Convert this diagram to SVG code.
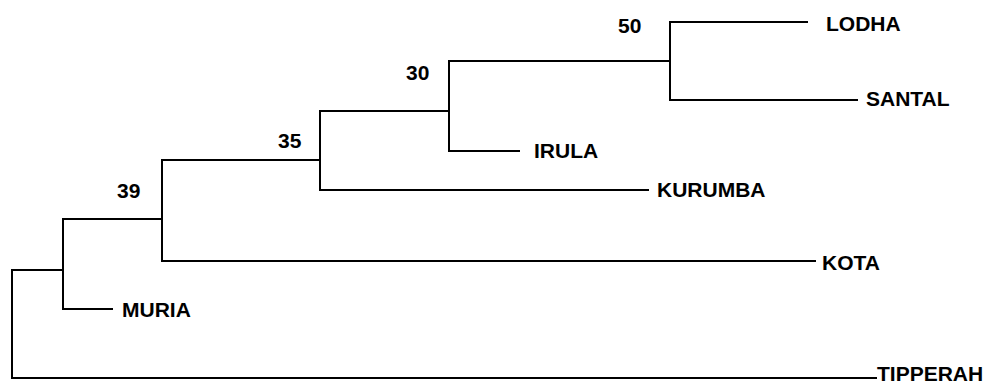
<svg xmlns="http://www.w3.org/2000/svg" width="994" height="384" viewBox="0 0 994 384">
<style>
.e{fill:none;stroke:#000;stroke-width:2;stroke-linecap:square}
.t{font-family:"Liberation Sans",Arial,sans-serif;font-weight:bold;font-size:21px;fill:#000}
</style>
<rect width="994" height="384" fill="#fff"/>
<g id="connectors">
<path class="e" d="M12,378 V270 H63"/>
<path class="e" d="M12,378 H876"/>
<path class="e" d="M63,309 V219 H162"/>
<path class="e" d="M63,309 H112"/>
<path class="e" d="M162,261 V160 H320"/>
<path class="e" d="M162,261 H815"/>
<path class="e" d="M320,190 V111 H449"/>
<path class="e" d="M320,190 H648"/>
<path class="e" d="M449,151 V61 H670"/>
<path class="e" d="M449,151 H519"/>
<path class="e" d="M670,100 V22 H807"/>
<path class="e" d="M670,100 H857"/>
</g>
<g id="node-39"><text class="t" x="117" y="198">39</text></g>
<g id="node-35"><text class="t" x="278" y="148">35</text></g>
<g id="node-30"><text class="t" x="406" y="80">30</text></g>
<g id="node-50"><text class="t" x="618" y="33">50</text></g>
<g id="leaf-lodha"><text class="t" x="826" y="31">LODHA</text></g>
<g id="leaf-santal"><text class="t" x="866" y="106">SANTAL</text></g>
<g id="leaf-irula"><text class="t" x="534" y="158">IRULA</text></g>
<g id="leaf-kurumba"><text class="t" x="657" y="197">KURUMBA</text></g>
<g id="leaf-kota"><text class="t" x="822" y="270">KOTA</text></g>
<g id="leaf-muria"><text class="t" x="122" y="317">MURIA</text></g>
<g id="leaf-tipperah"><text class="t" x="877" y="381">TIPPERAH</text></g>
</svg>
